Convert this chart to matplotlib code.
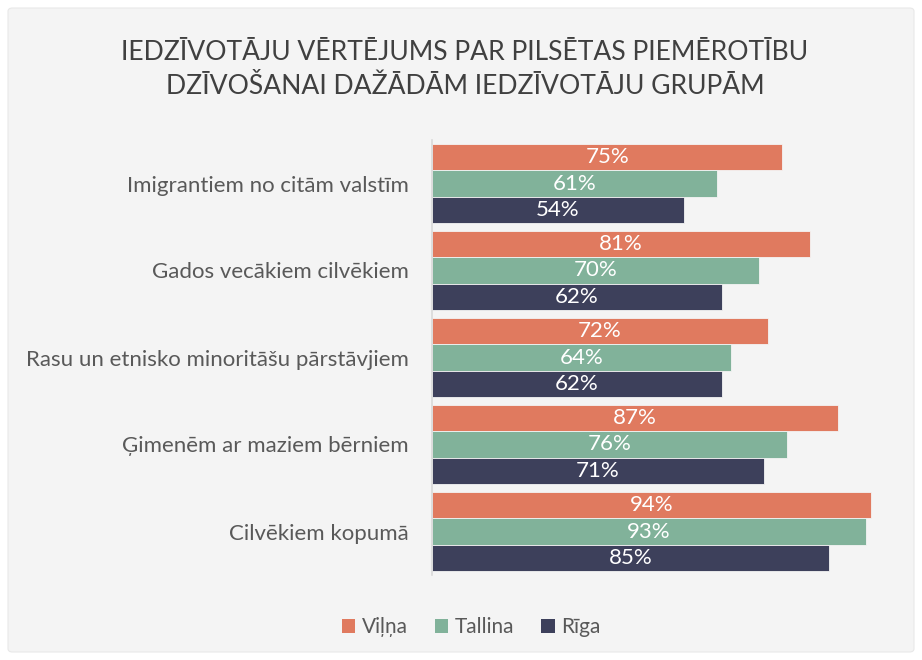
import matplotlib
matplotlib.use("Agg")
import matplotlib.pyplot as plt
from matplotlib.patches import FancyBboxPatch, Patch
import numpy as np

categories = ["Imigrantiem no citām valstīm", "Gados vecākiem cilvēkiem",
              "Rasu un etnisko minoritāšu pārstāvjiem", "Ģimenēm ar maziem bērniem",
              "Cilvēkiem kopumā"]
series_names = ["Viļņa", "Tallina", "Rīga"]
vilna = [75, 81, 72, 87, 94]
tallina = [61, 70, 64, 76, 93]
riga = [54, 62, 62, 71, 85]
colors = ["#E07A5F", "#81B29A", "#3D405B"]
title = "IEDZĪVOTĀJU VĒRTĒJUMS PAR PILSĒTAS PIEMĒROTĪBU\nDZĪVOŠANAI DAŽĀDĀM IEDZĪVOTĀJU GRUPĀM"

plt.rcParams['font.family'] = ['Lato', 'DejaVu Sans']

fig = plt.figure(figsize=(9.22, 6.6), dpi=100, facecolor="white")
W, H = 922, 660
bg = FancyBboxPatch((8 / W, 8 / H), (914 - 8) / W, (652 - 8) / H,
                    boxstyle="round,pad=0,rounding_size=0.005",
                    transform=fig.transFigure, facecolor="#F4F4F4",
                    edgecolor="#E8E8E8", linewidth=0.8, zorder=-10)
fig.patches.append(bg)

ax = fig.add_axes([432 / W, 1 - 575 / H, 467 / W, 435 / H])
ax.set_facecolor("none")

y = np.arange(len(categories))
bh = 0.3
for i, (vals, name, c) in enumerate(zip([vilna, tallina, riga], series_names, colors)):
    pos = y + (i - 1) * bh
    bars = ax.barh(pos, vals, height=bh, color=c, edgecolor="#F4F4F4",
                   linewidth=0.6, label=name)
    for b, v in zip(bars, vals):
        ax.text(v / 2, b.get_y() + b.get_height() / 2, f"{v}%", ha="center",
                va="center", color="white", fontsize=16)

ax.set_xlim(0, 100)
ax.set_ylim(len(categories) - 0.5, -0.5)
ax.set_yticks(y)
ax.set_yticklabels(categories, fontsize=16, color="#595959")
ax.tick_params(axis="y", length=0, pad=17)
ax.set_xticks([])
for s in ["top", "right", "bottom"]:
    ax.spines[s].set_visible(False)
ax.spines["left"].set_color("#D9D9D9")
ax.spines["left"].set_linewidth(1.2)

fig.text(465 / W, 1 - 70 / H, title, ha="center", va="center", fontsize=19.1,
         color="#404040", linespacing=1.45)

handles = [Patch(facecolor=c, label=n) for c, n in zip(colors, series_names)]
fig.legend(handles=handles, loc="center", bbox_to_anchor=(471 / W, 1 - 627 / H),
           ncol=3, frameon=False, fontsize=15, labelcolor="#595959",
           handlelength=0.65, handleheight=0.65, handletextpad=0.3, columnspacing=1.3)

fig.savefig("out.png", dpi=100, facecolor="white")
